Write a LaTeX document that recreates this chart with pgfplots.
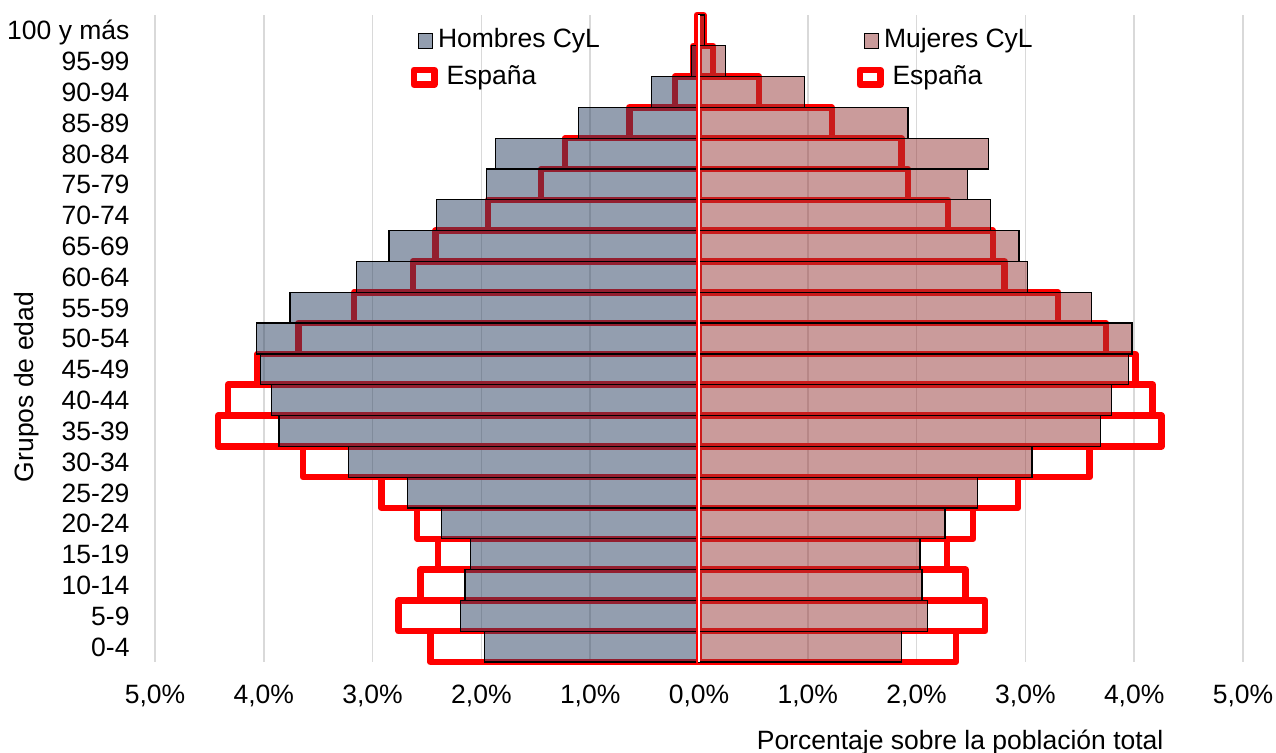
\documentclass[border=0pt]{standalone}
\usepackage{fontspec}
\setmainfont{Liberation Sans}
\usepackage{pgfplots}
\usepackage{pgfplotstable}
\pgfplotsset{compat=1.18}

\definecolor{hombres}{RGB}{40,62,95}
\definecolor{mujeres}{RGB}{150,55,55}
\definecolor{rejilla}{RGB}{217,217,217}
\definecolor{espana}{RGB}{255,0,0}

% Porcentaje de la población total por grupo de edad (hombres en negativo)
\pgfplotstableread{
g   hcyl   hesp   mcyl  mesp
0   -1.97  -2.47  1.86  2.36
1   -2.19  -2.76  2.10  2.63
2   -2.15  -2.56  2.05  2.45
3   -2.10  -2.40  2.03  2.28
4   -2.37  -2.59  2.26  2.52
5   -2.68  -2.92  2.56  2.93
6   -3.22  -3.64  3.06  3.59
7   -3.86  -4.42  3.69  4.25
8   -3.93  -4.33  3.79  4.17
9   -4.03  -4.06  3.95  4.01
10  -4.07  -3.68  3.98  3.74
11  -3.76  -3.17  3.61  3.30
12  -3.15  -2.63  3.02  2.81
13  -2.85  -2.42  2.94  2.70
14  -2.41  -1.94  2.68  2.29
15  -1.95  -1.45  2.47  1.92
16  -1.87  -1.23  2.66  1.86
17  -1.11  -0.64  1.92  1.22
18  -0.44  -0.22  0.97  0.55
19  -0.07  -0.05  0.24  0.13
20  -0.02  -0.02  0.05  0.04
}\piramide

\pgfplotsset{
  piramide/.style={
    at={(0,0)}, anchor=south west,
    scale only axis, width=435.2pt, height=258.8pt,
    xmin=-5, xmax=5, ymin=-0.5, ymax=20.5,
    clip=false,
    axis line style={draw=none},
    major tick length=0pt,
    legend style={draw=none, fill=none, inner sep=0pt, outer sep=0pt,
      row sep=4.6pt, cells={anchor=west},
      nodes={inner sep=0pt, text height=7.7pt, text depth=2.2pt},
      /tikz/every even column/.append style={column sep=0.6pt},
      font=\fontsize{10.6pt}{12.7pt}\selectfont},
  },
  cyl/.style={xbar, bar width=1, bar shift=0pt, draw=black, line width=0.5pt, fill opacity=0.5, draw opacity=1},
  esp/.style={xbar, bar width=1, bar shift=0pt, draw=espana, line width=2.6pt, line join=round, fill=none},
  cuadro/.style={legend image code/.code={
      \path (0pt,-3.2pt) (10.8pt,3.2pt);
      \draw[black, line width=0.5pt, fill=#1, fill opacity=0.5, draw opacity=1] (3.2pt,-3.1pt) rectangle (8.8pt,3.1pt);}},
  marco/.style={legend image code/.code={
      \draw[espana, line width=2.6pt, line join=round] (1.3pt,-2.9pt) rectangle (9.5pt,2.9pt);}},
}

\begin{document}
\begin{tikzpicture}[font=\fontsize{10.6pt}{12.7pt}\selectfont]
\path[use as bounding box] (-62pt,-36.4pt) rectangle (448.4pt,264.8pt);

% Hombres: rejilla, ejes, etiquetas y barras de la izquierda
\begin{axis}[piramide,
  xmajorgrids, grid style={rejilla, line width=0.6pt},
  xtick={-5,-4,-3,-2,-1,0,1,2,3,4,5},
  xticklabels={{5,0\%},{4,0\%},{3,0\%},{2,0\%},{1,0\%},{0,0\%},{1,0\%},{2,0\%},{3,0\%},{4,0\%},{5,0\%}},
  xticklabel style={anchor=north, inner sep=0pt, yshift=-9pt},
  ytick={0,...,20},
  yticklabels={0-4,5-9,10-14,15-19,20-24,25-29,30-34,35-39,40-44,45-49,50-54,55-59,60-64,65-69,70-74,75-79,80-84,85-89,90-94,95-99,100 y más},
  yticklabel style={anchor=base east, inner sep=0pt, xshift=-10pt, yshift=-3.8pt},
  xlabel={Porcentaje sobre la población total},
  xlabel style={at={(axis description cs:0.74,-0.136)}, anchor=base, inner sep=0pt},
  ylabel={Grupos de edad},
  ylabel style={at={(axis description cs:-0.1179,0.425)}, anchor=center, inner sep=0pt, rotate=0},
  legend style={at={(axis description cs:0.2344,0.979)}, anchor=north west},
]
\addlegendimage{cuadro=hombres}
\addlegendentry{Hombres CyL}
\addlegendimage{marco}
\addlegendentry{\hspace{3.4pt}España}
\addplot[esp, forget plot] table[x=hesp, y=g] {\piramide};
\addplot[cyl, fill=hombres, forget plot] table[x=hcyl, y=g] {\piramide};
\end{axis}

% Mujeres: barras de la derecha y su leyenda
\begin{axis}[piramide, hide axis,
  legend style={at={(axis description cs:0.6443,0.979)}, anchor=north west},
]
\addlegendimage{cuadro=mujeres}
\addlegendentry{Mujeres CyL}
\addlegendimage{marco}
\addlegendentry{\hspace{3.4pt}España}
\addplot[esp, forget plot] table[x=mesp, y=g] {\piramide};
\addplot[cyl, fill=mujeres, forget plot] table[x=mcyl, y=g] {\piramide};
% línea central de separación
\addplot[white, line width=0.9pt, forget plot] coordinates {(0,-0.5) (0,20.5)};
\end{axis}
\end{tikzpicture}
\end{document}
